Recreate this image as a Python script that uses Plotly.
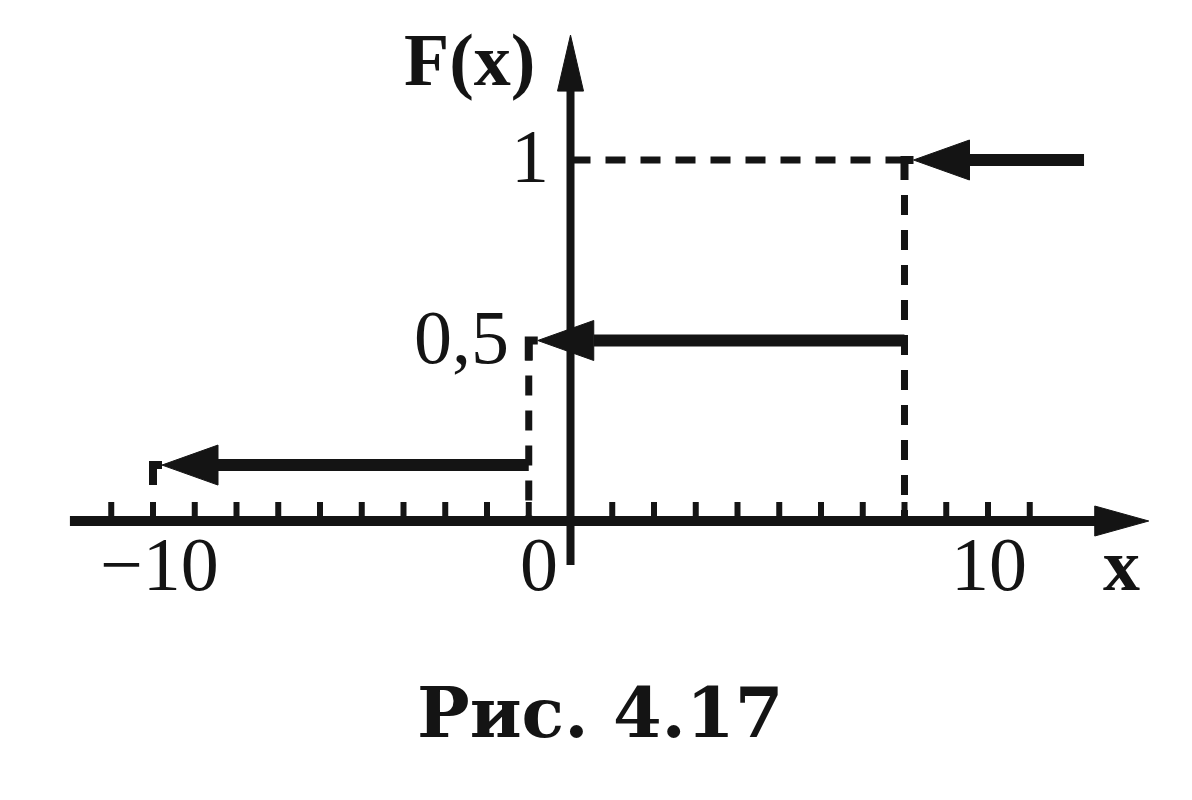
import plotly.graph_objects as go

# ---------------- data ----------------
x_ticks = [-11, -10, -9, -8, -7, -6, -5, -4, -3, -2, -1, 1, 2, 3, 4, 5, 6, 7, 8, 9, 10, 11]
x_label_vals = [-10, 0, 10]
x_label_text = ["\u221210", "0", "10"]
y_label_vals = [0.5, 1.0]
y_label_text = ["0,5", "1"]

step_start = [-10, -1, 8]      # left end of each step (arrow points here)
step_end = [-1, 8, 12.3]       # right end of each step
step_level = [0.155, 0.5, 1.0] # drawn level of each step

jump_x = [-1, 8]               # jump points (dashed verticals)
jump_top = [0.5, 1.0]

caption = "Рис. 4.17"

# ---------------- pixel scale helpers ----------------
W, H = 1192, 800
XPX, X0PX = 41.75, 570.5   # px per x unit, px of x=0
YPX, Y0PX = 361.0, 521.0   # px per F unit, px of F=0
dx = lambda px: px / XPX
dy = lambda px: px / YPX

INK = "#141414"
fig = go.Figure()

# x axis line + arrow
x_axis_start, x_axis_tip = -11.99, 13.85
fig.add_shape(type="line", x0=x_axis_start, x1=x_axis_tip - dx(40), y0=0, y1=0,
              line=dict(color=INK, width=10))
fig.add_shape(type="path", fillcolor=INK, line=dict(color=INK, width=1),
              path=f"M{x_axis_tip},0 L{x_axis_tip - dx(54)},{dy(15)} L{x_axis_tip - dx(54)},{-dy(15)} Z")

# y axis line + arrow
y_axis_bottom, y_axis_tip = -0.122, 1.346
fig.add_shape(type="line", x0=0, x1=0, y0=y_axis_bottom, y1=y_axis_tip - dy(40),
              line=dict(color=INK, width=8))
fig.add_shape(type="path", fillcolor=INK, line=dict(color=INK, width=1),
              path=f"M0,{y_axis_tip} L{dx(13)},{y_axis_tip - dy(56)} L{-dx(13)},{y_axis_tip - dy(56)} Z")

# ticks on x axis (above the axis)
tx, ty = [], []
for t in x_ticks:
    tx += [t, t, None]
    ty += [0, dy(19), None]
fig.add_trace(go.Scatter(x=tx, y=ty, mode="lines", line=dict(color=INK, width=6),
                         hoverinfo="skip", showlegend=False))

# dashed guide lines
dash = "20px,15px"
for xj, top in zip(jump_x, jump_top):
    fig.add_trace(go.Scatter(x=[xj, xj], y=[top, 0], mode="lines",
                             line=dict(color=INK, width=7, dash=dash),
                             hoverinfo="skip", showlegend=False))
fig.add_trace(go.Scatter(x=[0, jump_x[-1]], y=[jump_top[-1], jump_top[-1]], mode="lines",
                         line=dict(color=INK, width=7, dash=dash),
                         hoverinfo="skip", showlegend=False))

# steps with left-pointing arrowheads
for xs, xe, lv in zip(step_start, step_end, step_level):
    tip = xs + dx(9)
    base = tip + dx(56)
    fig.add_trace(go.Scatter(x=[base, xe], y=[lv, lv], mode="lines",
                             line=dict(color=INK, width=12),
                             hoverinfo="skip", showlegend=False))
    fig.add_trace(go.Scatter(x=[xs, xs, tip], y=[lv - dy(20), lv, lv], mode="lines",
                             line=dict(color=INK, width=8),
                             hoverinfo="skip", showlegend=False))
    fig.add_shape(type="path", fillcolor=INK, line=dict(color=INK, width=1),
                  path=f"M{tip},{lv} L{base},{lv + dy(20)} L{base},{lv - dy(20)} Z")

# tick labels
shifts = {-10: 6, 0: -32, 10: 1}
for v, t in zip(x_label_vals, x_label_text):
    fig.add_annotation(x=v, y=0, text=t, showarrow=False, xanchor="center", yanchor="middle",
                       xshift=shifts[v], yshift=-43,
                       font=dict(family="Liberation Serif", size=76, color=INK))
fig.add_annotation(x=x_axis_tip, y=0, text="<b>x</b>", showarrow=False, xanchor="center",
                   yanchor="middle", xshift=-27, yshift=-44,
                   font=dict(family="Liberation Serif", size=74, color=INK))
yshifts = {0.5: -60, 1.0: -20}
for v, t in zip(y_label_vals, y_label_text):
    fig.add_annotation(x=0, y=v, text=t, showarrow=False, xanchor="right", yanchor="middle",
                       xshift=yshifts[v], yshift=4,
                       font=dict(family="Liberation Serif", size=76, color=INK))
fig.add_annotation(x=0, y=y_axis_tip, text="<b>F(x)</b>", showarrow=False, xanchor="right",
                   yanchor="middle", xshift=-33, yshift=-25,
                   font=dict(family="Liberation Serif", size=74, color=INK))

# caption
fig.add_annotation(x=0.503, y=(H - 712) / H, xref="paper", yref="paper", text=f"<b>{caption}</b>",
                   showarrow=False, xanchor="center", yanchor="middle",
                   font=dict(family="DejaVu Serif", size=70, color=INK))

fig.update_layout(
    width=W, height=H, margin=dict(l=0, r=0, t=0, b=0),
    paper_bgcolor="white", plot_bgcolor="white", showlegend=False,
    xaxis=dict(range=[-X0PX / XPX, (W - X0PX) / XPX], visible=False, fixedrange=True),
    yaxis=dict(range=[(Y0PX - H) / YPX, Y0PX / YPX], visible=False, fixedrange=True),
)

fig.write_html("out.html", config={"displayModeBar": False},
               post_script="document.body.style.margin='0';")
